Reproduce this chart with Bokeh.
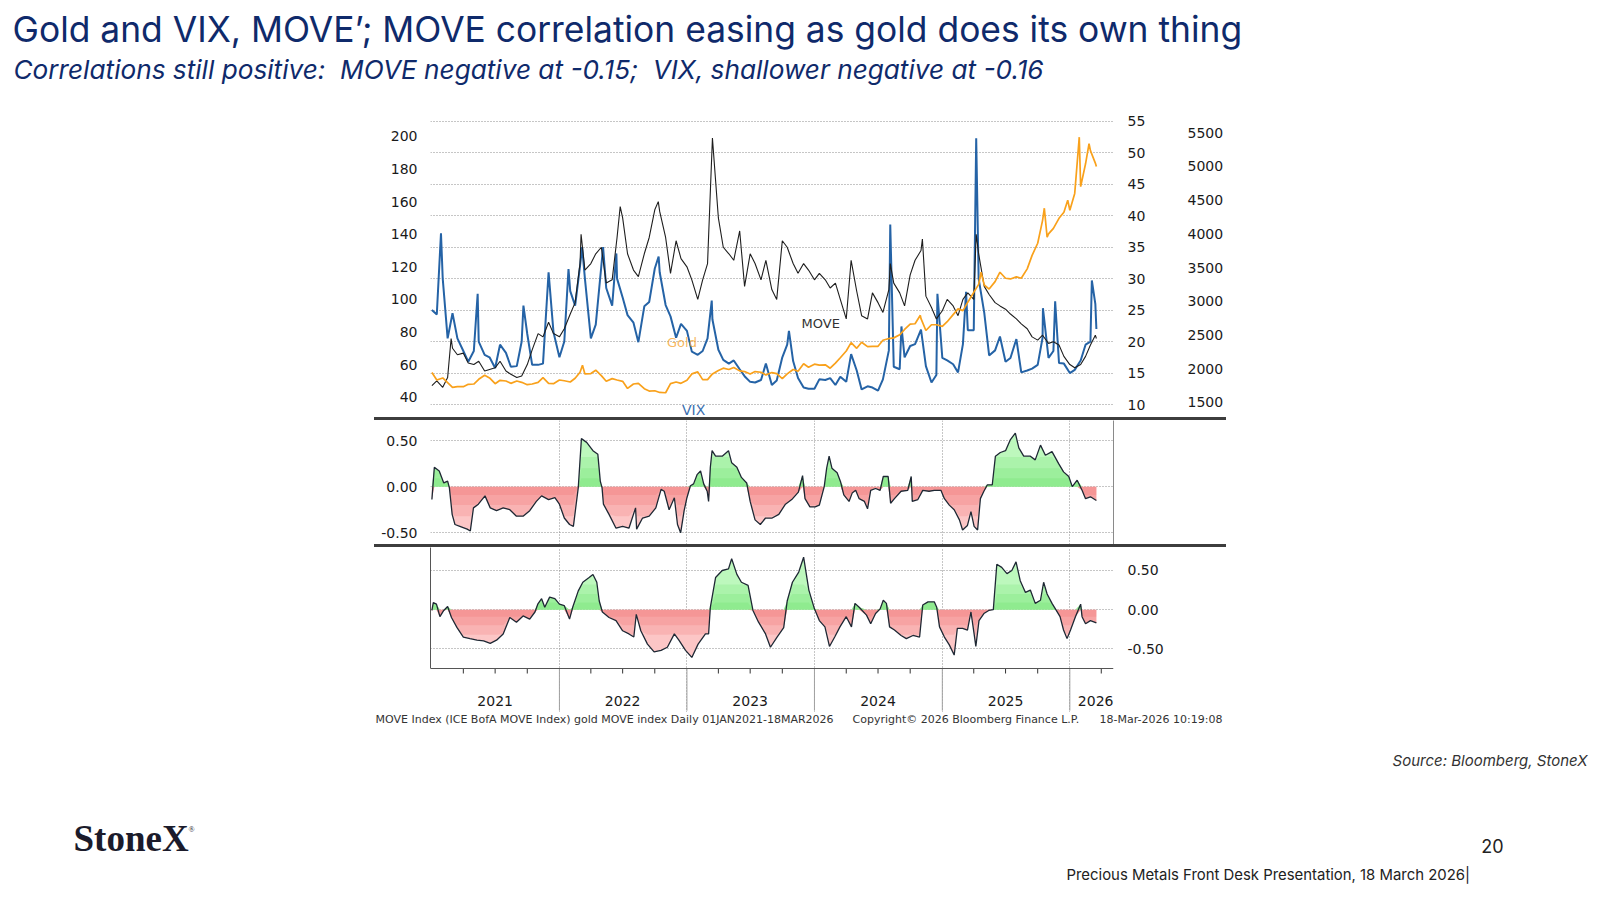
import numpy as np
import pandas as pd
from bokeh.plotting import figure
from bokeh.models import (Range1d, LinearAxis, FixedTicker, Label, Grid, Spacer,
                          NumeralTickFormatter, Span)
from bokeh.layouts import column, row
from bokeh.core.properties import value
from bokeh.embed import file_html
from bokeh.resources import INLINE

# ---------------- data ----------------
grid_dates = list(pd.date_range("2021-01-01", "2026-03-15", freq="SMS")) + [pd.Timestamp("2026-03-18")]

# MOVE index (1st / 15th of each month)
move_2021 = [47, 50, 46, 52, 70, 66, 67, 61, 60, 62, 56, 57, 58, 62, 56, 54, 52, 53, 60, 69, 79, 77, 86, 79]
move_2022 = [77, 82, 91, 98, 122, 118, 122, 128, 132, 110, 112, 138, 150, 128, 118, 114, 128, 138, 155, 154, 138, 116, 136, 125]
move_2023 = [120, 112, 100, 112, 122, 199, 150, 132, 128, 124, 142, 108, 128, 122, 112, 124, 106, 100, 136, 132, 122, 116, 122, 118]
move_2024 = [112, 116, 112, 107, 110, 100, 88, 124, 105, 90, 88, 104, 98, 92, 106, 110, 104, 96, 115, 124, 130, 102, 95, 88]
move_2025 = [93, 100, 96, 90, 100, 104, 100, 128, 108, 103, 98, 96, 94, 91, 88, 85, 82, 77, 75, 78, 73, 74, 72, 65]
move_2026 = [60, 58, 60, 65, 72, 78, 76]
move_extra_dates = ["2021-02-25", "2022-03-04", "2022-06-24", "2022-10-11", "2024-08-05", "2024-11-05", "2025-04-08"]
move_extra_vals = [76, 140, 157, 160, 122, 137, 140]

# VIX
vix_2021 = [25, 24.3, 30, 20.5, 24.5, 20.5, 18.5, 16.8, 18.5, 20, 17.9, 17.5, 15.8, 19.5, 18.2, 16, 16.1, 20, 21.2, 16.3, 16.3, 16.5, 31, 21.5]
vix_2022 = [17.5, 20, 28, 25.7, 32, 30, 20.5, 22.7, 32, 28.5, 25.7, 30, 27, 24.2, 23, 19.9, 25.6, 26.3, 31.6, 31, 25.8, 24, 20.6, 22.8]
vix_2023 = [21.7, 18.4, 17.9, 18.5, 20.5, 23.5, 18.7, 17.1, 16.5, 17, 15.6, 14.5, 13.6, 13.5, 13.9, 16.5, 13.1, 13.8, 17.5, 19.5, 16.9, 14.2, 12.7, 12.5]
vix_2024 = [12.5, 14, 13.9, 14.2, 13.1, 14.4, 13.6, 18, 15.4, 12.4, 12.9, 12.7, 12.2, 14, 18.6, 16, 15.6, 17.5, 19.3, 19.6, 21.9, 16.1, 13.5, 14.7]
vix_2025 = [17.4, 17, 16.4, 15.1, 19.6, 21.8, 21.8, 30, 24.6, 17.8, 18.6, 20.8, 16.8, 17.4, 20.4, 15.1, 15.4, 15.7, 16.3, 20.6, 17.4, 18.5, 16.6, 16.5]
vix_2026 = [15, 15.5, 17, 19.5, 20, 26, 22]
vix_extra_dates = ["2021-01-27", "2021-05-12", "2021-09-20", "2022-01-27", "2022-03-07", "2022-05-06",
                   "2022-06-13", "2022-10-12", "2023-03-13", "2023-10-20", "2024-08-05", "2024-09-06",
                   "2024-12-18", "2025-03-10", "2025-04-08", "2025-10-16", "2025-11-20", "2026-03-05"]
vix_extra_vals = [37.2, 27.6, 25.7, 31.5, 35, 35, 34, 33.5, 26.5, 21.7, 38.6, 22.4, 27.6, 27.9, 52.3, 25.3, 26.4, 29.7]

# Gold
gold_2021 = [1940, 1830, 1860, 1790, 1720, 1730, 1730, 1765, 1770, 1840, 1900, 1860, 1775, 1825, 1815, 1780, 1815, 1795, 1760, 1770, 1795, 1865, 1780, 1775]
gold_2022 = [1830, 1818, 1800, 1855, 1945, 1920, 1925, 1975, 1895, 1810, 1850, 1830, 1810, 1705, 1770, 1780, 1700, 1665, 1670, 1645, 1640, 1775, 1800, 1780]
gold_2023 = [1825, 1920, 1950, 1835, 1835, 1920, 1970, 2005, 1985, 2015, 1965, 1955, 1920, 1955, 1945, 1905, 1940, 1925, 1850, 1920, 1985, 1960, 2070, 2020]
gold_2024 = [2065, 2050, 2055, 2005, 2080, 2160, 2260, 2385, 2300, 2390, 2325, 2330, 2330, 2420, 2445, 2455, 2500, 2580, 2660, 2665, 2740, 2565, 2650, 2650]
gold_2025 = [2625, 2695, 2800, 2885, 2860, 2985, 3130, 3250, 3240, 3180, 3290, 3430, 3340, 3330, 3360, 3340, 3480, 3680, 3860, 4200, 4000, 4080, 4230, 4320]
gold_2026 = [4350, 4600, 4700, 5040, 5235, 5050, 5000]
gold_extra_dates = ["2022-03-08", "2024-10-30", "2025-04-22", "2025-10-20", "2025-10-28", "2025-12-26", "2026-01-28", "2026-02-25"]
gold_extra_vals = [2050, 2790, 3430, 4380, 3950, 4500, 5435, 5340]

# Rolling correlation gold vs MOVE (middle panel)
cm_dates = ["2021-01-01", "2021-01-08", "2021-01-22", "2021-02-04", "2021-02-15", "2021-02-20", "2021-02-28",
            "2021-03-08", "2021-03-22", "2021-04-12", "2021-04-21", "2021-04-30", "2021-05-14", "2021-06-02",
            "2021-06-17", "2021-07-05", "2021-07-24", "2021-08-12", "2021-08-31", "2021-09-19", "2021-10-08",
            "2021-10-27", "2021-11-11", "2021-12-01", "2021-12-19", "2022-01-01", "2022-01-15", "2022-01-30",
            "2022-02-10", "2022-02-24", "2022-03-05", "2022-03-20", "2022-04-07", "2022-04-21", "2022-04-28",
            "2022-05-03", "2022-05-07", "2022-05-23", "2022-06-12", "2022-07-01", "2022-07-19", "2022-08-07",
            "2022-08-10", "2022-08-27", "2022-09-15", "2022-10-04", "2022-10-19", "2022-10-28", "2022-11-11",
            "2022-11-26", "2022-12-05", "2022-12-14", "2022-12-24", "2023-01-01", "2023-01-11", "2023-01-20",
            "2023-01-30", "2023-02-09", "2023-02-18", "2023-02-28", "2023-03-04", "2023-03-09", "2023-03-14",
            "2023-03-24", "2023-04-12", "2023-04-30", "2023-05-09", "2023-05-24", "2023-06-06", "2023-06-21",
            "2023-07-01", "2023-07-15", "2023-07-30", "2023-08-14", "2023-09-02", "2023-09-21", "2023-10-10",
            "2023-10-28", "2023-11-16", "2023-11-28", "2023-12-05", "2023-12-19", "2024-01-03", "2024-01-15",
            "2024-01-29", "2024-02-05", "2024-02-12", "2024-02-20", "2024-03-06", "2024-03-16", "2024-03-25",
            "2024-04-09", "2024-04-18", "2024-04-28", "2024-05-08", "2024-05-23", "2024-06-01", "2024-06-10",
            "2024-06-24", "2024-07-07", "2024-07-16", "2024-07-30", "2024-08-06", "2024-08-17", "2024-09-05",
            "2024-09-24", "2024-10-04", "2024-10-07", "2024-10-23", "2024-11-06", "2024-11-24", "2024-12-09",
            "2024-12-28", "2025-01-07", "2025-01-21", "2025-02-04", "2025-02-19", "2025-02-28", "2025-03-14",
            "2025-03-24", "2025-04-02", "2025-04-12", "2025-04-20", "2025-04-30", "2025-05-10", "2025-05-24",
            "2025-06-02", "2025-06-16", "2025-07-01", "2025-07-15", "2025-07-29", "2025-08-08", "2025-08-22",
            "2025-09-10", "2025-09-24", "2025-10-09", "2025-10-23", "2025-11-11", "2025-11-30", "2025-12-14",
            "2025-12-29", "2026-01-08", "2026-01-22", "2026-02-05", "2026-02-15", "2026-03-01", "2026-03-18"]
cm_vals = [-0.14, 0.21, 0.17, 0.04, 0.06, -0.01, -0.30,
           -0.41, -0.43, -0.46, -0.48, -0.23, -0.19, -0.10,
           -0.23, -0.26, -0.23, -0.25, -0.32, -0.32, -0.26,
           -0.16, -0.10, -0.14, -0.12, -0.19, -0.34, -0.41,
           -0.43, -0.01, 0.52, 0.48, 0.39, 0.35, 0.06,
           -0.01, -0.19, -0.30, -0.45, -0.43, -0.45, -0.23,
           -0.46, -0.34, -0.32, -0.23, -0.03, -0.05, -0.25,
           -0.12, -0.41, -0.50, -0.26, -0.12, 0.01, 0.03,
           0.13, 0.17, 0.03, -0.05, -0.16, 0.21, 0.39,
           0.33, 0.33, 0.39, 0.26, 0.21, 0.10, 0.04,
           -0.16, -0.36, -0.41, -0.34, -0.34, -0.30, -0.19,
           -0.14, -0.06, 0.12, -0.13, -0.22, -0.22, -0.20,
           0.00, 0.20, 0.33, 0.20, 0.15, 0.05, -0.09,
           -0.16, -0.07, -0.04, -0.13, -0.16, -0.24, -0.04,
           -0.02, -0.04, 0.11, 0.11, -0.18, -0.13, -0.05,
           -0.04, 0.11, -0.16, -0.14, -0.04, -0.05, -0.04,
           -0.04, -0.13, -0.20, -0.25, -0.36, -0.47, -0.42,
           -0.27, -0.43, -0.47, -0.13, -0.05, 0.02, 0.02,
           0.33, 0.37, 0.39, 0.51, 0.58, 0.42, 0.33,
           0.33, 0.29, 0.45, 0.34, 0.38, 0.25, 0.16,
           0.11, 0.00, 0.07, -0.04, -0.13, -0.11, -0.15]

# Rolling correlation gold vs VIX (bottom panel)
cv_dates = ["2021-01-01", "2021-01-05", "2021-01-14", "2021-01-24", "2021-02-04", "2021-02-15", "2021-02-26",
            "2021-03-14", "2021-04-01", "2021-04-20", "2021-05-10", "2021-05-29", "2021-06-17", "2021-07-05",
            "2021-07-24", "2021-08-12", "2021-08-31", "2021-09-19", "2021-10-08", "2021-10-23", "2021-10-31",
            "2021-11-11", "2021-11-20", "2021-12-04", "2021-12-19", "2022-01-01", "2022-01-15", "2022-01-30",
            "2022-02-08", "2022-02-24", "2022-03-09", "2022-03-27", "2022-04-07", "2022-04-18", "2022-04-25",
            "2022-05-04", "2022-05-23", "2022-06-12", "2022-07-01", "2022-07-19", "2022-08-02", "2022-08-09",
            "2022-08-22", "2022-09-10", "2022-09-29", "2022-10-19", "2022-11-06", "2022-11-26", "2022-12-09",
            "2022-12-28", "2023-01-15", "2023-02-02", "2023-02-23", "2023-03-04", "2023-03-09", "2023-03-24",
            "2023-04-12", "2023-04-30", "2023-05-09", "2023-05-24", "2023-06-06", "2023-06-25", "2023-07-09",
            "2023-07-25", "2023-08-14", "2023-08-28", "2023-09-16", "2023-10-05", "2023-10-15", "2023-10-30",
            "2023-11-17", "2023-12-01", "2023-12-16", "2024-01-01", "2024-01-15", "2024-01-31", "2024-02-13",
            "2024-02-28", "2024-03-14", "2024-04-01", "2024-04-16", "2024-04-26", "2024-05-08", "2024-05-29",
            "2024-06-10", "2024-06-24", "2024-07-07", "2024-07-16", "2024-07-25", "2024-08-03", "2024-08-17",
            "2024-09-05", "2024-09-20", "2024-10-09", "2024-10-28", "2024-11-06", "2024-11-21", "2024-12-09",
            "2024-12-16", "2024-12-24", "2025-01-07", "2025-01-21", "2025-02-04", "2025-02-13", "2025-02-28",
            "2025-03-14", "2025-03-24", "2025-04-02", "2025-04-07", "2025-04-16", "2025-04-30", "2025-05-14",
            "2025-05-27", "2025-06-06", "2025-06-20", "2025-07-05", "2025-07-19", "2025-07-31", "2025-08-12",
            "2025-08-27", "2025-09-10", "2025-09-24", "2025-10-09", "2025-10-18", "2025-10-28", "2025-11-11",
            "2025-11-22", "2025-12-04", "2025-12-14", "2025-12-24", "2026-01-03", "2026-01-17", "2026-02-01",
            "2026-02-05", "2026-02-15", "2026-03-01", "2026-03-18"]
cv_vals = [-0.01, 0.09, 0.07, -0.09, -0.01, 0.04, -0.10,
           -0.23, -0.35, -0.37, -0.39, -0.40, -0.43, -0.39,
           -0.31, -0.10, -0.16, -0.08, -0.12, -0.03, 0.07,
           0.14, 0.03, 0.16, 0.14, 0.07, 0.05, -0.12,
           0.03, 0.24, 0.35, 0.41, 0.45, 0.35, 0.11,
           -0.03, -0.10, -0.14, -0.27, -0.31, -0.35, -0.06,
           -0.27, -0.44, -0.54, -0.52, -0.48, -0.31, -0.39,
           -0.52, -0.61, -0.44, -0.31, -0.31, 0.03, 0.41,
           0.50, 0.52, 0.65, 0.45, 0.35, 0.31, -0.01,
           -0.16, -0.31, -0.48, -0.35, -0.23, 0.11, 0.35,
           0.48, 0.67, 0.25, 0.01, -0.14, -0.22, -0.47,
           -0.35, -0.22, -0.09, -0.22, 0.08, 0.03, -0.07,
           -0.18, -0.05, 0.01, 0.12, 0.08, -0.22, -0.26,
           -0.33, -0.37, -0.33, -0.35, 0.06, 0.10, 0.10,
           0.03, -0.22, -0.35, -0.45, -0.58, -0.24, -0.24,
           -0.26, -0.03, -0.31, -0.47, -0.14, -0.05, -0.01,
           0.00, 0.58, 0.54, 0.46, 0.50, 0.61, 0.37,
           0.22, 0.25, 0.08, 0.12, 0.35, 0.20, 0.08,
           0.00, -0.09, -0.26, -0.37, -0.26, -0.09, 0.07,
           -0.09, -0.18, -0.14, -0.17]

vix_ticks = [10, 15, 20, 25, 30, 35, 40, 45, 50, 55]
move_ticks = [40, 60, 80, 100, 120, 140, 160, 180, 200]
gold_ticks = [1500, 2000, 2500, 3000, 3500, 4000, 4500, 5000, 5500]
corr_ticks = [-0.5, 0.0, 0.5]
year_labels = ["2021", "2022", "2023", "2024", "2025", "2026"]
year_label_dates = ["2021-07-01", "2022-07-01", "2023-07-01", "2024-07-01", "2025-07-01", "2026-03-16"]
year_starts = ["2022-01-01", "2023-01-01", "2024-01-01", "2025-01-01", "2026-01-01"]
quarter_starts = [f"{y}-{m:02d}-01" for y in range(2021, 2026) for m in (4, 7, 10)] + ["2026-04-01"]


def series(base, extra_d, extra_v):
    assert len(base) == len(grid_dates)
    s = pd.Series(base, index=pd.DatetimeIndex(grid_dates), dtype=float)
    e = pd.Series(extra_v, index=pd.to_datetime(extra_d), dtype=float)
    s = pd.concat([s, e]).sort_index()
    return s.index, s.values


move_x, move_y = series(move_2021 + move_2022 + move_2023 + move_2024 + move_2025 + move_2026,
                        move_extra_dates, move_extra_vals)
vix_x, vix_y = series(vix_2021 + vix_2022 + vix_2023 + vix_2024 + vix_2025 + vix_2026,
                      vix_extra_dates, vix_extra_vals)
gold_x, gold_y = series(gold_2021 + gold_2022 + gold_2023 + gold_2024 + gold_2025 + gold_2026,
                        gold_extra_dates, gold_extra_vals)


def ms(d):
    return pd.Timestamp(d).timestamp() * 1000.0


# ---------------- styling helpers ----------------
FONT = "DejaVu Sans"
SLIDE_FONT = "Inter"
W = 852
LB, RB = 56, 110
GRID_C = "#8c8c8c"
xr = Range1d(pd.Timestamp("2020-12-28"), pd.Timestamp("2026-05-06"))


def base_fig(h, y0, y1, yloc):
    p = figure(width=W, height=h, x_range=xr, y_range=Range1d(y0, y1), x_axis_type="datetime",
               x_axis_location=None, y_axis_location=yloc, output_backend="svg",
               toolbar_location=None, min_border_left=LB, min_border_right=RB,
               min_border_top=0, min_border_bottom=0)
    p.outline_line_color = None
    p.xgrid.visible = False
    p.ygrid.visible = False
    return p


def style_axis(ax, ticks, standoff, fmt=None):
    ax.ticker = FixedTicker(ticks=ticks)
    ax.axis_line_color = None
    ax.major_tick_line_color = None
    ax.minor_tick_line_color = None
    ax.major_tick_in = 0
    ax.major_tick_out = 0
    ax.minor_tick_in = 0
    ax.minor_tick_out = 0
    ax.major_label_standoff = standoff
    ax.major_label_text_font = FONT
    ax.major_label_text_font_size = "14px"
    ax.major_label_text_color = "#1a1a1a"
    if fmt is not None:
        ax.formatter = fmt


def line_axis(bounds="auto", color="#555555"):
    ax = LinearAxis(ticker=FixedTicker(ticks=[]), bounds=bounds)
    ax.axis_line_color = color
    ax.major_tick_line_color = None
    ax.minor_tick_line_color = None
    ax.major_tick_out = 0
    ax.major_tick_in = 0
    ax.minor_tick_out = 0
    ax.minor_tick_in = 0
    ax.major_label_text_font_size = "0px"
    ax.major_label_standoff = 0
    return ax


def hgrid(p, ticks):
    p.add_layout(Grid(dimension=1, ticker=FixedTicker(ticks=ticks), grid_line_color=GRID_C,
                      grid_line_dash="1 2", grid_line_width=1))


def vgrid(p):
    p.add_layout(Grid(dimension=0, ticker=FixedTicker(ticks=[ms(d) for d in year_starts]),
                      grid_line_color=GRID_C, grid_line_dash="1 2", grid_line_width=1))


def corr_draw(p, dates, vals):
    d = pd.to_datetime(dates)
    v = np.array(vals, dtype=float)
    pos = np.clip(v, 0, None)
    neg = np.clip(v, None, 0)
    p.varea(x=d, y1=0, y2=pos, fill_color="#bdf8bd")
    p.varea(x=d, y1=neg, y2=0, fill_color="#fcc6c6")
    for lv in (0.32, 0.2, 0.09):
        p.varea(x=d, y1=0, y2=np.minimum(pos, lv), fill_color="#52dc52", fill_alpha=0.17)
        p.varea(x=d, y1=np.maximum(neg, -lv), y2=0, fill_color="#ec5656", fill_alpha=0.17)
    p.line(d, v, line_color="#1e2834", line_width=1.3)


# ---------------- top panel ----------------
top = base_fig(304, 7.94, 56.22, "right")
top.extra_y_ranges = {"move": Range1d(27.5, 214.1), "gold": Range1d(1272.8, 5786.6)}
style_axis(top.yaxis[0], vix_ticks, 14)
move_axis = LinearAxis(y_range_name="move")
style_axis(move_axis, move_ticks, 13)
top.add_layout(move_axis, "left")
gold_axis = LinearAxis(y_range_name="gold")
style_axis(gold_axis, gold_ticks, 39)
top.add_layout(gold_axis, "right")
hgrid(top, vix_ticks)

top.line(vix_x, vix_y, line_color="#2563a6", line_width=2.0)
top.line(move_x, move_y, line_color="#1e1e1e", line_width=1.1, y_range_name="move")
top.line(gold_x, gold_y, line_color="#f9a11b", line_width=1.7, y_range_name="gold")

top.add_layout(Label(x=ms("2023-11-25"), y=85.2, y_range_name="move", text="MOVE",
                     text_font=FONT, text_font_size="13px", text_color="#333333",
                     text_baseline="middle"))
top.add_layout(Label(x=ms("2022-11-05"), y=73.6, y_range_name="move", text="Gold",
                     text_font=FONT, text_font_size="13px", text_color="#f5a534", text_alpha=0.8,
                     text_baseline="middle"))
top.add_layout(Label(x=ms("2022-12-18"), y=32.4, y_range_name="move", text="VIX",
                     text_font=FONT, text_font_size="14px", text_color="#3a6fb0",
                     text_baseline="middle"))

# ---------------- middle panel (gold vs MOVE corr) ----------------
mid = base_fig(124, -0.6268, 0.7167, "left")
style_axis(mid.yaxis[0], corr_ticks, 13, NumeralTickFormatter(format="0.00"))
mid.add_layout(line_axis(color="#8a8a8a"), "right")
hgrid(mid, corr_ticks)
vgrid(mid)
corr_draw(mid, cm_dates, cm_vals)

# ---------------- bottom panel (gold vs VIX corr) ----------------
AX_Y = -0.7516
bot = base_fig(165, -1.3135, 0.7937, "right")
style_axis(bot.yaxis[0], corr_ticks, 14, NumeralTickFormatter(format="0.00"))
bot.add_layout(line_axis(bounds=(AX_Y, 0.7937), color="#555555"), "left")
hgrid(bot, corr_ticks)
vgrid(bot)
corr_draw(bot, cv_dates, cv_vals)
bot.add_layout(Span(location=AX_Y, dimension="width", line_color="#555555", line_width=1))
ys = pd.to_datetime(year_starts)
bot.segment(x0=ys, x1=ys, y0=AX_Y, y1=-1.29, line_color="#a0a0a0", line_width=1)
qs = pd.to_datetime(quarter_starts)
bot.segment(x0=qs, x1=qs, y0=AX_Y, y1=AX_Y - 0.064, line_color="#333333", line_width=1)
bot.text(x=pd.to_datetime(year_label_dates), y=[-1.173] * len(year_labels), text=year_labels,
         text_font=value(FONT), text_font_size="14px", text_align="center",
         text_baseline="middle", text_color="#1a1a1a")


def sep():
    return Spacer(width=W, height=3, styles={"background-color": "#3d3d3d"})


charts = column(top, sep(), mid, sep(), bot, spacing=0)


# ---------------- header / footer ----------------
def text_fig(w, h):
    p = figure(width=w, height=h, x_range=Range1d(0, w), y_range=Range1d(0, h),
               x_axis_location=None, y_axis_location=None, output_backend="svg",
               toolbar_location=None, min_border=0)
    p.outline_line_color = None
    p.xgrid.visible = False
    p.ygrid.visible = False
    return p


NAVY = "#0f2a6b"
PW = 1592
header = text_fig(PW, 113)
header.add_layout(Label(x=12, y=84, x_units="screen", y_units="screen",
                        text="Gold and VIX, MOVE’; MOVE correlation easing as gold does its own thing",
                        text_font=SLIDE_FONT, text_font_size="35.4px", text_color=NAVY,
                        text_baseline="alphabetic"))
header.add_layout(Label(x=13, y=43.7, x_units="screen", y_units="screen",
                        text="Correlations still positive:\u00a0 MOVE negative at -0.15;\u00a0 VIX, shallower negative at -0.16",
                        text_font=SLIDE_FONT, text_font_size="26.2px", text_font_style="italic",
                        text_color=NAVY, text_baseline="alphabetic"))

footer = text_fig(PW, 176)
for tx, txt in ((375, "MOVE Index (ICE BofA MOVE Index) gold MOVE index Daily 01JAN2021-18MAR2026"),
                (852, "Copyright© 2026 Bloomberg Finance L.P."),
                (1099, "18-Mar-2026 10:19:08")):
    footer.add_layout(Label(x=tx, y=169, x_units="screen", y_units="screen", text=txt,
                            text_font=FONT, text_font_size="11px", text_color="#333333",
                            text_baseline="middle"))
footer.add_layout(Label(x=1587, y=128, x_units="screen", y_units="screen",
                        text="Source: Bloomberg, StoneX", text_font=SLIDE_FONT,
                        text_font_size="15px", text_font_style="italic", text_color="#333333",
                        text_align="right", text_baseline="middle"))
footer.add_layout(Label(x=73, y=49.7, x_units="screen", y_units="screen", text="StoneX",
                        text_font="Liberation Serif", text_font_size="37px",
                        text_font_style="bold", text_color="#1b1b2b", text_baseline="middle"))
footer.add_layout(Label(x=188, y=59, x_units="screen", y_units="screen", text="®",
                        text_font="Liberation Serif", text_font_size="8px",
                        text_color="#1b1b2b", text_baseline="middle"))
footer.add_layout(Label(x=1492, y=43, x_units="screen", y_units="screen", text="20",
                        text_font=SLIDE_FONT, text_font_size="18px", text_color="#222222",
                        text_align="center", text_baseline="middle"))
footer.add_layout(Label(x=1066, y=13.5, x_units="screen", y_units="screen",
                        text="Precious Metals Front Desk Presentation, 18 March 2026|",
                        text_font=SLIDE_FONT, text_font_size="14.9px", text_color="#222222",
                        text_baseline="middle"))

body = row(Spacer(width=374, height=599), charts, spacing=0)
page = column(header, body, footer, spacing=0)

open("out.html", "w").write(file_html(page, INLINE))
